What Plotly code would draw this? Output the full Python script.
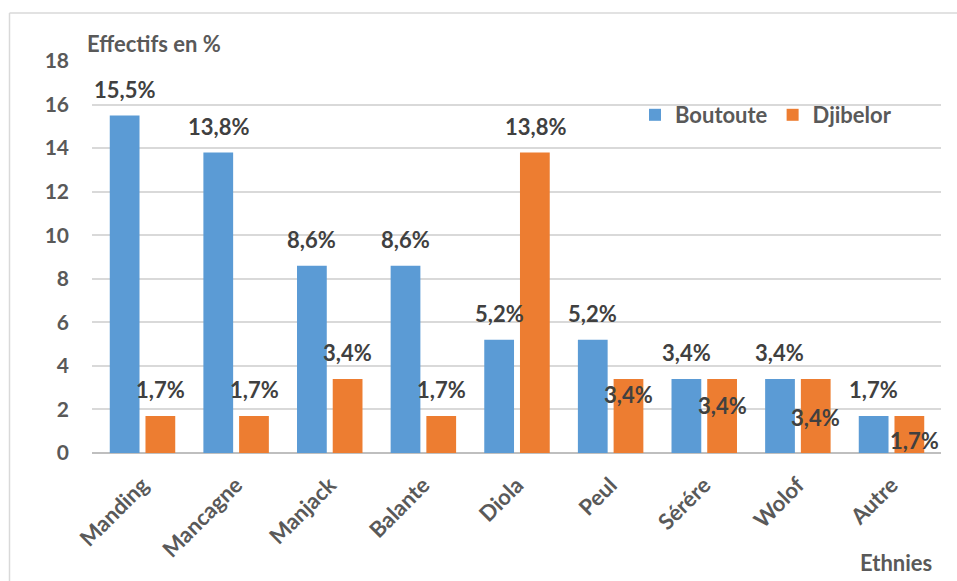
import plotly.graph_objects as go

categories = ["Manding", "Mancagne", "Manjack", "Balante", "Diola", "Peul", "Sérére", "Wolof", "Autre"]
boutoute = [15.5, 13.8, 8.6, 8.6, 5.2, 5.2, 3.4, 3.4, 1.7]
djibelor = [1.7, 1.7, 3.4, 1.7, 13.8, 3.4, 3.4, 3.4, 1.7]
y_ticks = [0, 2, 4, 6, 8, 10, 12, 14, 16, 18]

# label vertical offsets (px) relative to the bar top
boutoute_label_shift = [26, 26, 26, 26, 26, 26, 26, 26, 26]
djibelor_label_shift = [26, 26, 26, 26, 26, -16, -27, -39, -25]
djibelor_label_xshift = [18, 18, 18, 18, 18, 18, 18, 18, 23]

FONT = "Lato"
BLUE = "#5b9bd5"
ORANGE = "#ed7d31"

fig = go.Figure()
fig.add_trace(go.Bar(x=categories, y=boutoute, name="Boutoute", marker=dict(color=BLUE, line=dict(width=0))))
fig.add_trace(go.Bar(x=categories, y=djibelor, name="Djibelor", marker=dict(color=ORANGE, line=dict(width=0))))

def fmt(v):
    return f"{v:.1f}".replace(".", ",") + "%"

LABEL_FONT = dict(family=FONT, size=22, color="#404040", weight="bold")
annotations = []
for i, c in enumerate(categories):
    annotations.append(dict(x=c, y=boutoute[i], xref="x", yref="y", text=fmt(boutoute[i]),
                            showarrow=False, xshift=-18, yshift=boutoute_label_shift[i],
                            xanchor="center", yanchor="middle", font=LABEL_FONT))
    annotations.append(dict(x=c, y=djibelor[i], xref="x", yref="y", text=fmt(djibelor[i]),
                            showarrow=False, xshift=djibelor_label_xshift[i], yshift=djibelor_label_shift[i],
                            xanchor="center", yanchor="middle", font=LABEL_FONT))

annotations.append(dict(x=(85 - 92) / 849, y=(453 - 43) / 392, xref="paper", yref="paper",
                        text="Effectifs en %", showarrow=False, xanchor="left", yanchor="middle",
                        font=dict(family=FONT, size=22, color="#595959", weight="bold")))
annotations.append(dict(x=(934 - 92) / 849, y=(453 - 562) / 392, xref="paper", yref="paper",
                        text="Ethnies", showarrow=False, xanchor="right", yanchor="middle",
                        font=dict(family=FONT, size=22, color="#595959", weight="bold")))

shapes = [
    dict(type="line", xref="paper", yref="paper", x0=(9.5 - 92) / 849, x1=(960 - 92) / 849,
         y0=(453 - 13) / 392, y1=(453 - 13) / 392, line=dict(color="#d9d9d9", width=1.5)),
    dict(type="line", xref="paper", yref="paper", x0=(9.5 - 92) / 849, x1=(9.5 - 92) / 849,
         y0=(453 - 13) / 392, y1=(453 - 585) / 392, line=dict(color="#d9d9d9", width=1.5)),
]

fig.update_layout(
    width=957, height=581,
    margin=dict(l=92, r=16, t=61, b=128),
    paper_bgcolor="white", plot_bgcolor="white",
    barmode="group", bargap=0.237, bargroupgap=0.167,
    font=dict(family=FONT, color="#595959", size=18),
    showlegend=True,
    legend=dict(orientation="h", x=(635 - 92) / 849, y=(453 - 115) / 392, xanchor="left", yanchor="middle",
                font=dict(family=FONT, size=22, color="#595959", weight="bold"),
                bgcolor="rgba(0,0,0,0)", itemwidth=30, tracegroupgap=0),
    annotations=annotations,
    shapes=shapes,
)
fig.update_yaxes(range=[0, 18], tickvals=y_ticks, showgrid=True, gridcolor="#d9d9d9", gridwidth=1.5,
                 zeroline=True, zerolinecolor="#bfbfbf", zerolinewidth=2, showline=False,
                 ticks="", ticklabelstandoff=22, automargin=False,
                 tickfont=dict(family=FONT, size=21, color="#595959", weight="bold"))
fig.update_xaxes(tickangle=-45, showline=False, ticks="", showgrid=False, automargin=False,
                 ticklabelstandoff=14,
                 tickfont=dict(family=FONT, size=22, color="#595959", weight="bold"))

fig.write_html("out.html")
